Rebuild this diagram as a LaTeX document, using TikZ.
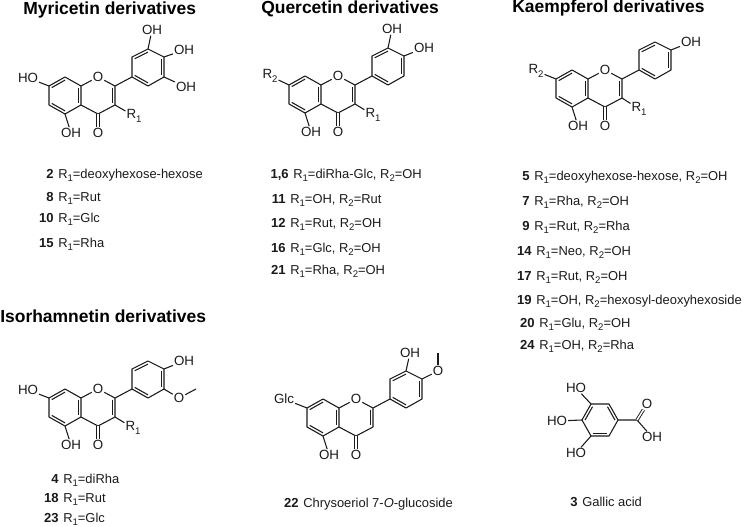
\documentclass[tikz,border=0pt]{standalone}
\usepackage{fontspec}
\setmainfont{Liberation Sans}
\usetikzlibrary{calc}
\definecolor{ink}{HTML}{1A1A1A}
\tikzset{
  bond/.style={draw=ink,line width=.8pt},
  dblbond/.style={draw=ink,line width=.68pt,double=white,double distance=1.1pt},
  atom/.style={text=ink,font=\fontsize{10}{12}\selectfont,inner sep=.6pt},
  heading/.style={text=black,font=\fontsize{13.1}{15}\selectfont\bfseries,anchor=base west,inner sep=0pt},
  lbl/.style={text=ink,font=\fontsize{9.7}{12}\selectfont,anchor=base west,inner sep=0pt},
  lblnum/.style={text=ink,font=\fontsize{9.8}{12}\selectfont\bfseries,anchor=base east,inner sep=0pt},
}
\newcommand{\subdigit}[1]{\raisebox{-.24em}{\fontsize{7.2}{8}\selectfont #1}}
\newcommand{\Ra}{R\subdigit{1}}
\newcommand{\Rb}{R\subdigit{2}}
% inner line of a double bond: a, b, ring centre
\newcommand{\innerbond}[3]{\draw[bond] ($(#1)!.17!(#3)$) -- ($(#2)!.17!(#3)$);}
% label line: name, x of text, baseline y, number, text
\newcommand{\lab}[5]{\node[lblnum] (#1n) at (#2-4,#3) {#4};\node[lbl] (#1t) at (#2,#3) {#5};}
% flavone core + B ring: prefix, x, y (C8a), substituent at C7, its x, y (relative)
\newcommand{\flavone}[6]{%
\begin{scope}[shift={(#2,#3)}]
  \coordinate (#1c8a) at (0,0);
  \coordinate (#1c7) at (-32,0);
  \coordinate (#1c8) at (-16,-9);
  \coordinate (#1c6) at (-32,19);
  \coordinate (#1c5) at (-16,28);
  \coordinate (#1c4a) at (0,19);
  \coordinate (#1c2) at (34,0);
  \coordinate (#1c3) at (34,19);
  \coordinate (#1c4) at (17,28);
  \coordinate (#1cA) at (-16,9.5);
  \coordinate (#1cC) at (17,9.5);
  \coordinate (#1b1) at (51,-9);
  \coordinate (#1b2) at (51,-29);
  \coordinate (#1b3) at (67,-37);
  \coordinate (#1b4) at (83,-29);
  \coordinate (#1b5) at (83,-9);
  \coordinate (#1b6) at (67,0);
  \coordinate (#1cB) at (67,-18.5);
  \node[atom] (#1O) at (17,-9) {O};
  \node[atom] (#1Ox) at (17,47) {O};
  \node[atom] (#1OH) at (-10,47) {OH};
  \node[atom] (#1sub) at (#5,#6) {#4};
\end{scope}
\draw[bond,line join=round] (#1c7) -- (#1c8) -- (#1c8a) -- (#1c4a) -- (#1c5) -- (#1c6) -- cycle;
\draw[bond] (#1c8a) -- (#1O) -- (#1c2);
\draw[bond,line join=round] (#1c2) -- (#1c3) -- (#1c4) -- (#1c4a);
\draw[dblbond] (#1c4) -- (#1Ox);
\draw[bond] (#1c5) -- (#1OH);
\draw[bond] (#1c7) -- (#1sub);
\draw[bond] (#1c2) -- (#1b1);
\draw[bond,line join=round] (#1b1) -- (#1b2) -- (#1b3) -- (#1b4) -- (#1b5) -- (#1b6) -- cycle;
\innerbond{#1c7}{#1c8}{#1cA}
\innerbond{#1c8a}{#1c4a}{#1cA}
\innerbond{#1c5}{#1c6}{#1cA}
\innerbond{#1c2}{#1c3}{#1cC}
\innerbond{#1b2}{#1b3}{#1cB}
\innerbond{#1b4}{#1b5}{#1cB}
\innerbond{#1b6}{#1b1}{#1cB}
}
\begin{document}
\begin{tikzpicture}[x=.75pt,y=-.75pt]
\useasboundingbox (0,0) rectangle (745,527);
% headings
\node[heading] (hM) at (23,14.5) {Myricetin derivatives};
\node[heading] (hQ) at (261,13.5) {Quercetin derivatives};
\node[heading] (hK) at (512,12.5) {Kaempferol derivatives};
\node[heading] (hI) at (0,322) {Isorhamnetin derivatives};

% Myricetin
\flavone{m}{81}{86}{HO}{-53}{-8}
\node[atom] (mR) at (134,116) {\Ra};
\draw[bond] (mc3) -- (mR);
\node[atom] (mOHa) at (152,30) {OH};
\node[atom] (mOHb) at (184,50) {OH};
\node[atom] (mOHc) at (186,87) {OH};
\draw[bond] (mb3) -- (mOHa);
\draw[bond] (mb4) -- (mOHb);
\draw[bond] (mb5) -- (mOHc);

% Quercetin
\flavone{q}{321}{85}{\Rb}{-51}{-9}
\node[atom] (qR) at (373,115) {\Ra};
\draw[bond] (qc3) -- (qR);
\node[atom] (qOHa) at (392,29) {OH};
\node[atom] (qOHb) at (424,48) {OH};
\draw[bond] (qb3) -- (qOHa);
\draw[bond] (qb4) -- (qOHb);

% Kaempferol
\flavone{k}{588}{79}{\Rb}{-52}{-8}
\node[atom] (kR) at (639,109) {\Ra};
\draw[bond] (kc3) -- (kR);
\node[atom] (kOHa) at (691,42) {OH};
\draw[bond] (kb4) -- (kOHa);

% Isorhamnetin
\flavone{i}{81}{398}{HO}{-53}{-8}
\node[atom] (iR) at (133,428) {\Ra};
\draw[bond] (ic3) -- (iR);
\node[atom] (iOHa) at (184,361) {OH};
\node[atom] (iOm) at (179,398) {O};
\coordinate (iMe) at (196,389);
\draw[bond] (ib4) -- (iOHa);
\draw[bond] (ib5) -- (iOm);
\draw[bond] (iOm) -- (iMe);

% Chrysoeriol
\flavone{c}{339}{408}{Glc}{-55}{-9}
\node[atom] (cOHa) at (410,353) {OH};
\node[atom] (cOm) at (438,371) {O};
\coordinate (cMe) at (438,353);
\draw[bond] (cb3) -- (cOHa);
\draw[bond] (cb4) -- (cOm);
\draw[bond] (cOm) -- (cMe);

% Gallic acid
\coordinate (g1) at (618,420);
\coordinate (g2) at (609,404);
\coordinate (g3) at (591,404);
\coordinate (g4) at (582,420);
\coordinate (g5) at (591,436);
\coordinate (g6) at (609,436);
\coordinate (gc) at (600,420);
\coordinate (gC) at (637,420);
\node[atom] (gO) at (647,404) {O};
\node[atom] (gOH) at (652,437) {OH};
\node[atom] (gHa) at (576,388) {HO};
\node[atom] (gHb) at (557,421) {HO};
\node[atom] (gHc) at (576,453) {HO};
\draw[bond,line join=round] (g1) -- (g2) -- (g3) -- (g4) -- (g5) -- (g6) -- cycle;
\innerbond{g1}{g2}{gc}
\innerbond{g3}{g4}{gc}
\innerbond{g5}{g6}{gc}
\draw[bond] (g1) -- (gC) -- (gOH);
\draw[dblbond] (gC) -- (gO);
\draw[bond] (g3) -- (gHa);
\draw[bond] (g4) -- (gHb);
\draw[bond] (g5) -- (gHc);

% Labels: Myricetin
\lab{a1}{58}{178.5}{2}{\Ra=deoxyhexose-hexose}
\lab{a2}{58}{201.5}{8}{\Ra=Rut}
\lab{a3}{58}{222.5}{10}{\Ra=Glc}
\lab{a4}{58}{247.5}{15}{\Ra=Rha}
% Labels: Quercetin
\lab{b1}{293}{178.5}{1,6}{\Ra=diRha-Glc, \Rb=OH}
\lab{b2}{290}{203.5}{11}{\Ra=OH, \Rb=Rut}
\lab{b3}{290}{227.5}{12}{\Ra=Rut, \Rb=OH}
\lab{b4}{290}{252.5}{16}{\Ra=Glc, \Rb=OH}
\lab{b5}{290}{274.5}{21}{\Ra=Rha, \Rb=OH}
% Labels: Kaempferol
\lab{d1}{534}{180.5}{5}{\Ra=deoxyhexose-hexose, \Rb=OH}
\lab{d2}{534}{205.5}{7}{\Ra=Rha, \Rb=OH}
\lab{d3}{534}{230.5}{9}{\Ra=Rut, \Rb=Rha}
\lab{d4}{536}{255.5}{14}{\Ra=Neo, \Rb=OH}
\lab{d5}{536}{280.5}{17}{\Ra=Rut, \Rb=OH}
\lab{d6}{536}{304.5}{19}{\Ra=OH, \Rb=hexosyl-deoxyhexoside}
\lab{d7}{539}{327.5}{20}{\Ra=Glu, \Rb=OH}
\lab{d8}{539}{349.5}{24}{\Ra=OH, \Rb=Rha}
% Labels: Isorhamnetin
\lab{e1}{63}{483.5}{4}{\Ra=diRha}
\lab{e2}{63}{502.5}{18}{\Ra=Rut}
\lab{e3}{63}{522.5}{23}{\Ra=Glc}
% Labels: single compounds
\lab{f1}{303}{507.5}{22}{Chrysoeriol 7-\textit{O}-glucoside}
\lab{f2}{582}{506.5}{3}{Gallic acid}
\end{tikzpicture}
\end{document}
